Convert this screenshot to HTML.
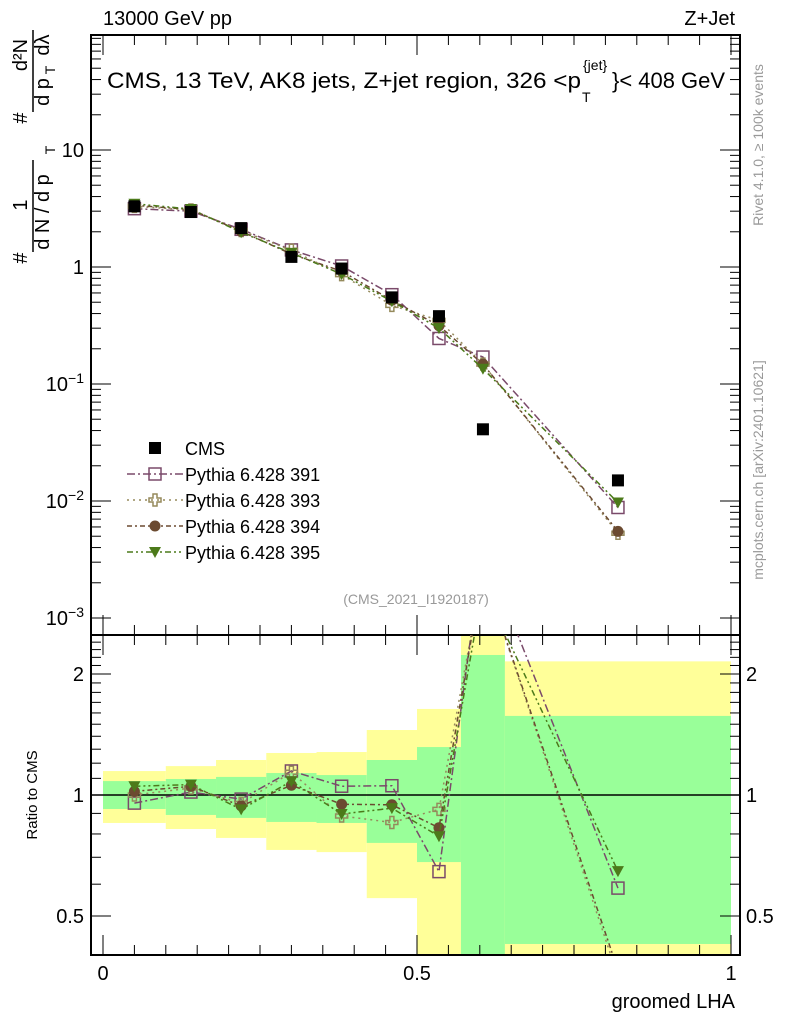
<!DOCTYPE html>
<html><head><meta charset="utf-8"><style>
body{margin:0;background:#fff;}
svg text{font-family:"Liberation Sans",sans-serif;}
</style></head><body>
<svg id="c" width="786" height="1024" xmlns="http://www.w3.org/2000/svg"></svg>
<script>
const xCenters=[0.05,0.14,0.22,0.30,0.38,0.46,0.535,0.605,0.82];
const binEdges=[0,0.1,0.18,0.26,0.34,0.42,0.5,0.57,0.64,1.0];
const cms=[3.3,2.95,2.15,1.22,0.97,0.55,0.38,0.041,0.015];
const p391=[3.15,3.0,2.1,1.4,1.02,0.58,0.245,0.17,0.0088];
const p393=[3.3,3.07,2.05,1.39,0.86,0.47,0.35,0.148,0.0053];
const p394=[3.37,3.1,2.02,1.29,0.92,0.52,0.315,0.148,0.0055];
const p395=[3.47,3.13,1.98,1.32,0.87,0.51,0.30,0.135,0.0097];
const yellowHi=[1.147,1.18,1.222,1.272,1.279,1.451,1.637,3.0,2.15];
const yellowLo=[0.852,0.823,0.782,0.73,0.721,0.554,0.3,0.3,0.3];
const greenHi=[1.083,1.096,1.109,1.134,1.121,1.222,1.316,2.23,1.573];
const greenLo=[0.923,0.892,0.877,0.857,0.852,0.76,0.681,0.3,0.426];

const NS="http://www.w3.org/2000/svg";
const svg=document.getElementById('c');
const L=91,R=740,T=35,MB=635,RB=955;
const X=v=>103+v*628;
const Y=v=>267-Math.log10(v)*117;
const RY=v=>795-Math.log10(v)*402;
function el(tag,attrs,parent){const e=document.createElementNS(NS,tag);for(const k in attrs)e.setAttribute(k,attrs[k]);(parent||svg).appendChild(e);return e;}
function txt(s,x,y,attrs){const e=el('text',Object.assign({x:x,y:y,'font-size':20,fill:'#000'},attrs||{}));e.textContent=s;return e;}

const defs=el('defs',{});
const cp=el('clipPath',{id:'rc'},defs);el('rect',{x:L,y:MB,width:R-L,height:RB-MB},cp);
const cp2=el('clipPath',{id:'mc'},defs);el('rect',{x:L,y:T,width:R-L,height:MB-T},cp2);
const bands=el('g',{'clip-path':'url(#rc)'});

for(let i=0;i<9;i++){
  const x0=X(binEdges[i]),x1=X(binEdges[i+1]);
  const y=el('rect',{x:x0,y:RY(yellowHi[i]),width:x1-x0,height:RY(yellowLo[i])-RY(yellowHi[i]),fill:'#ffff99'},bands);
  
  const g=el('rect',{x:x0,y:RY(greenHi[i]),width:x1-x0,height:RY(greenLo[i])-RY(greenHi[i]),fill:'#99ff99'},bands);
  
}
el('line',{x1:L,x2:R,y1:RY(1),y2:RY(1),stroke:'#000','stroke-width':1.5});

el('rect',{x:L,y:T,width:R-L,height:MB-T,fill:'none',stroke:'#000','stroke-width':2});
el('rect',{x:L,y:MB,width:R-L,height:RB-MB,fill:'none',stroke:'#000','stroke-width':2});

for(let d=-3;d<=1;d++){
  for(let m=1;m<10;m++){
    const v=m*Math.pow(10,d);const y=Y(v);if(y<T||y>MB)continue;
    const len=m==1?20:10;
    el('line',{x1:L,x2:L+len,y1:y,y2:y,stroke:'#000'});
    el('line',{x1:R,x2:R-len,y1:y,y2:y,stroke:'#000'});
  }
}
[["10",-3],["10",-2],["10",-1],["1",0],["10",1]].forEach(([b,d])=>{
  const y=Y(Math.pow(10,d))+7;
  const t=txt('',84,y,{'text-anchor':'end'});
  
  const s1=el('tspan',{},t);s1.textContent=b;
  if(d<0){const s2=el('tspan',{dy:-8,'font-size':14},t);s2.textContent='−'+(-d);}
});
[0.4,0.5,0.6,0.7,0.8,0.9,1,1.1,1.2,1.3,1.4,1.5,1.6,1.7,1.8,1.9,2,2.1,2.2,2.3,2.4].forEach(v=>{
  const y=RY(v);const major=(v==0.5||v==1||v==2);const len=major?20:10;
  el('line',{x1:L,x2:L+len,y1:y,y2:y,stroke:'#000'});
  el('line',{x1:R,x2:R-len,y1:y,y2:y,stroke:'#000'});
});
[[0.5,'0.5'],[1,'1'],[2,'2']].forEach(([v,s])=>{
  const a=txt(s,84,RY(v)+7,{'text-anchor':'end'});
  const b=txt(s,746,RY(v)+7,{});
});
for(let k=0;k<=20;k++){
  const v=k*0.05;const x=X(v);const major=k%10==0;const len=major?20:10;
  el('line',{x1:x,x2:x,y1:RB,y2:RB-len,stroke:'#000'});
  el('line',{x1:x,x2:x,y1:MB,y2:MB-len,stroke:'#000'});
  el('line',{x1:x,x2:x,y1:T,y2:T+len,stroke:'#000'});
  el('line',{x1:x,x2:x,y1:MB,y2:MB+len,stroke:'#000'});
}
[[0,'0'],[0.5,'0.5'],[1,'1']].forEach(([v,s])=>{const t=txt(s,X(v),980,{'text-anchor':'middle'});});

const series=[
 {name:'Pythia 6.428 391',d:p391,c:'#7a4a6a',m:'sq',dash:'8,3,2,3'},
 {name:'Pythia 6.428 393',d:p393,c:'#958a5c',m:'cross',dash:'2,4'},
 {name:'Pythia 6.428 394',d:p394,c:'#6b4a30',m:'circ',dash:'5,3,2,3'},
 {name:'Pythia 6.428 395',d:p395,c:'#4c7a1a',m:'tri',dash:'6,3,2,3,2,3'}
];
function marker(g,type,x,y,c){
  if(type=='sq')el('rect',{x:x-6,y:y-6,width:12,height:12,fill:'none',stroke:c,'stroke-width':1.5},g);
  else if(type=='cross')el('path',{d:`M${x-2},${y-6}h4v4h4v4h-4v4h-4v-4h-4v-4h4z`,fill:'none',stroke:c,'stroke-width':1.5},g);
  else if(type=='circ')el('circle',{cx:x,cy:y,r:5.5,fill:c},g);
  else if(type=='tri')el('path',{d:`M${x-6},${y-5}h12l-6,11z`,fill:c},g);
  else if(type=='cms')el('rect',{x:x-6,y:y-6,width:12,height:12,fill:'#000'},g);
}
series.forEach(s=>{
  const gm=el('g',{'clip-path':'url(#mc)'});
  
  el('polyline',{points:s.d.map((v,i)=>X(xCenters[i])+','+Y(v)).join(' '),fill:'none',stroke:s.c,'stroke-width':1.5,'stroke-dasharray':s.dash},gm);
  s.d.forEach((v,i)=>marker(gm,s.m,X(xCenters[i]),Y(v),s.c));
  const gr=el('g',{'clip-path':'url(#rc)'});
  
  el('polyline',{points:s.d.map((v,i)=>X(xCenters[i])+','+RY(v/cms[i])).join(' '),fill:'none',stroke:s.c,'stroke-width':1.5,'stroke-dasharray':s.dash},gr);
  s.d.forEach((v,i)=>marker(gr,s.m,X(xCenters[i]),RY(v/cms[i]),s.c));
});
const gc=el('g',{});

cms.forEach((v,i)=>marker(gc,'cms',X(xCenters[i]),Y(v)));

const leg=el('g',{});

marker(leg,'cms',155,448);
txt('CMS',185,455,{'font-size':18});
series.forEach((s,i)=>{
  const y=474+i*26;
  el('line',{x1:127,x2:183,y1:y,y2:y,stroke:s.c,'stroke-width':1.5,'stroke-dasharray':s.dash},leg);
  marker(leg,s.m,155,y,s.c);
  const t=txt(s.name,185,y+7,{'font-size':18});
});

txt('13000 GeV pp',103,25,{'font-size':20});
txt('Z+Jet',735,25,{'font-size':20,'text-anchor':'end'});
const h=txt('CMS, 13 TeV, AK8 jets, Z+jet region, 326 <p',107,88,{'font-size':22,textLength:474,lengthAdjust:'spacingAndGlyphs'});
txt('T',582,102,{'font-size':14});txt('{jet}',583,70,{'font-size':14});
txt('}< 408 GeV',612,88,{'font-size':22,textLength:113,lengthAdjust:'spacingAndGlyphs'});
txt('(CMS_2021_I1920187)',416,604,{'font-size':14,fill:'#999','text-anchor':'middle'});
txt('groomed LHA',735,1008,{'font-size':20,'text-anchor':'end'});
const rt=txt('Ratio to CMS',0,0,{'font-size':15,'text-anchor':'middle',transform:'translate(37,795) rotate(-90)'});

// y axis title (rotated fraction layout)
const yg=el('g',{});

function rt2(s,x,y,fs){const t=txt(s,0,0,{'font-size':fs||20,'text-anchor':'middle',transform:`translate(${x},${y}) rotate(-90)`});yg.appendChild(t);return t;}
rt2('#',27,258);
rt2('1',27,205);
el('line',{x1:33,x2:33,y1:160,y2:252,stroke:'#000','stroke-width':1.5},yg);
rt2('d N / d p',49,212);rt2('T',55,150,14);
rt2('#',27,118);
rt2('d²N',27,55);
el('line',{x1:33,x2:33,y1:30,y2:112,stroke:'#000','stroke-width':1.5},yg);
rt2('d p',49,92);rt2('T',55,70,14);rt2('dλ',49,45);

txt('Rivet 4.1.0, ≥ 100k events',0,0,{'font-size':14,fill:'#999','text-anchor':'middle',transform:'translate(763,145) rotate(-90)'});
txt('mcplots.cern.ch [arXiv:2401.10621]',0,0,{'font-size':14,fill:'#999','text-anchor':'middle',transform:'translate(763,470) rotate(-90)'});
</script>
</body></html>
